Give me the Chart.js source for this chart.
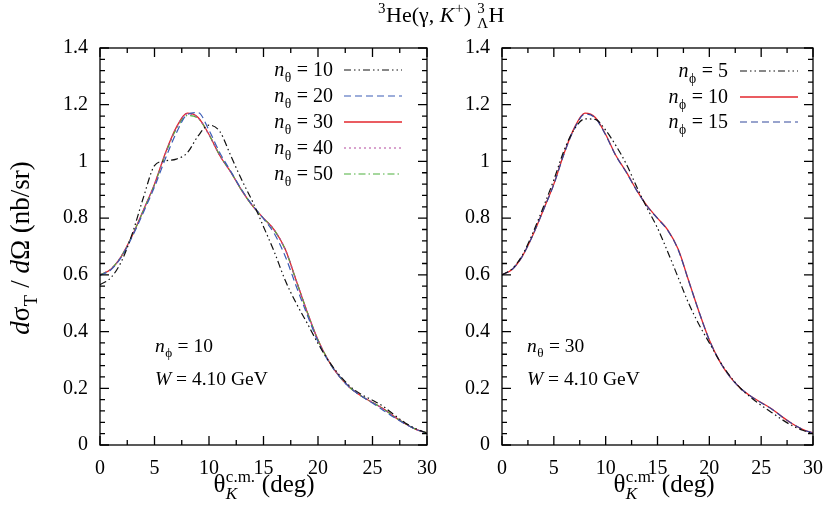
<!DOCTYPE html>
<html><head><meta charset="utf-8">
<script src="https://cdn.jsdelivr.net/npm/chart.js@4.4.1/dist/chart.umd.min.js"></script>
<style>
html,body{margin:0;padding:0;background:#fff;overflow:hidden}
#wrap{position:relative;width:835px;height:513px;background:#fff}
canvas{position:absolute;left:0;top:0}
</style></head><body>
<div id="wrap"><canvas id="c1" width="835" height="513"></canvas><canvas id="c2" width="835" height="513"></canvas></div>
<script>
// ---------- data ----------
const theta = [0,1,2,3,4,5,6,7,8,9,10,11,12,13,14,15,16,17,18,19,20,21,22,23,24,25,26,27,28,29,30];
const xTickLabels = [0,5,10,15,20,25,30];
const yTickLabels = ['0','0.2','0.4','0.6','0.8','1','1.2','1.4'];

// left panel (n_phi = 10)
const nTheta10 = [0.565,0.590,0.650,0.750,0.875,0.985,1.002,1.008,1.030,1.090,1.128,1.105,1.020,0.935,0.858,0.770,0.680,0.580,0.500,0.430,0.358,0.295,0.245,0.205,0.178,0.158,0.136,0.106,0.078,0.057,0.042];
const nTheta20 = [0.598,0.618,0.665,0.738,0.822,0.910,1.010,1.100,1.165,1.172,1.110,1.030,0.965,0.900,0.845,0.798,0.745,0.665,0.560,0.460,0.365,0.293,0.240,0.200,0.172,0.148,0.122,0.097,0.074,0.055,0.042];
const nTheta30 = [0.600,0.620,0.668,0.742,0.830,0.920,1.030,1.120,1.170,1.155,1.095,1.020,0.962,0.898,0.843,0.800,0.758,0.690,0.580,0.470,0.370,0.295,0.240,0.200,0.172,0.150,0.128,0.100,0.075,0.055,0.042];
const nTheta40 = [0.600,0.620,0.668,0.742,0.829,0.919,1.028,1.118,1.168,1.154,1.094,1.020,0.962,0.898,0.843,0.800,0.757,0.689,0.580,0.470,0.370,0.295,0.240,0.200,0.172,0.150,0.127,0.100,0.075,0.055,0.042];
const nTheta50 = [0.600,0.620,0.668,0.742,0.829,0.918,1.026,1.114,1.162,1.152,1.094,1.021,0.963,0.898,0.843,0.800,0.757,0.689,0.580,0.470,0.370,0.295,0.240,0.200,0.172,0.150,0.127,0.100,0.075,0.055,0.042];

// right panel (n_theta = 30)
const nPhi5  = [0.600,0.622,0.672,0.750,0.840,0.935,1.040,1.115,1.150,1.148,1.110,1.055,0.990,0.910,0.835,0.765,0.680,0.590,0.500,0.425,0.360,0.296,0.243,0.200,0.168,0.140,0.115,0.090,0.068,0.052,0.040];
const nPhi10 = [0.600,0.620,0.668,0.742,0.830,0.920,1.030,1.120,1.170,1.155,1.095,1.020,0.962,0.898,0.843,0.800,0.758,0.690,0.580,0.470,0.370,0.295,0.240,0.200,0.172,0.150,0.128,0.100,0.075,0.055,0.042];
const nPhi15 = [0.600,0.620,0.668,0.742,0.829,0.919,1.028,1.117,1.167,1.153,1.093,1.019,0.961,0.897,0.842,0.799,0.756,0.688,0.579,0.470,0.370,0.295,0.240,0.200,0.172,0.149,0.127,0.100,0.075,0.055,0.042];

// ---------- helpers ----------
const FONT = "'Liberation Serif', 'Times New Roman', serif";
function pts(arr){ return theta.map((t,i)=>({x:t,y:arr[i]})); }
function fnt(size,it){ return (it?'italic ':'')+size+'px '+FONT; }
function segW(ctx,s,size){
  if (s.sup!==undefined || s.sub!==undefined){
    const ss=size*0.68; let w=0;
    if (s.sup!==undefined){ ctx.font=fnt(ss,s.supIt); w=Math.max(w,ctx.measureText(s.sup).width); }
    if (s.sub!==undefined){ ctx.font=fnt(ss,s.subIt); w=Math.max(w,ctx.measureText(s.sub).width); }
    return w+1;
  }
  ctx.font=fnt(size,s.it); return ctx.measureText(s.t).width;
}
function drawRich(ctx,segs,x,y,size,align){
  let total=0; segs.forEach(s=>total+=segW(ctx,s,size));
  let cx = align==='right'? x-total : align==='center'? x-total/2 : x;
  ctx.textAlign='left'; ctx.textBaseline='alphabetic'; ctx.fillStyle='#000';
  segs.forEach(s=>{
    const w=segW(ctx,s,size);
    if (s.sup!==undefined || s.sub!==undefined){
      const ss=size*0.68;
      if (s.sup!==undefined){ ctx.font=fnt(ss,s.supIt); ctx.fillText(s.sup,cx+0.5,y-size*0.42); }
      if (s.sub!==undefined){ ctx.font=fnt(ss,s.subIt); ctx.fillText(s.sub,cx+0.5,y+size*0.28); }
    } else { ctx.font=fnt(size,s.it); ctx.fillText(s.t,cx,y); }
    cx+=w;
  });
}

const framePlugin = {
  id:'frame',
  afterDatasetsDraw(chart){
    const {ctx, chartArea:a, scales:{x,y}} = chart;
    ctx.save(); ctx.strokeStyle='#000'; ctx.lineWidth=1.3; ctx.setLineDash([]);
    ctx.beginPath();
    for (let k=0;k<=12;k++){
      const px=x.getPixelForValue(k*2.5); const L=(k%2===0)?9:5;
      ctx.moveTo(px,a.bottom); ctx.lineTo(px,a.bottom-L);
      ctx.moveTo(px,a.top); ctx.lineTo(px,a.top+L);
    }
    for (let k=0;k<=35;k++){
      const py=y.getPixelForValue(k*0.04); const L=(k%5===0)?9:5;
      ctx.moveTo(a.left,py); ctx.lineTo(a.left+L,py);
      ctx.moveTo(a.right,py); ctx.lineTo(a.right-L,py);
    }
    ctx.stroke();
    ctx.strokeRect(a.left,a.top,a.right-a.left,a.bottom-a.top);
    ctx.restore();
  }
};
function textPlugin(items){
  return { id:'txt', afterDraw(chart){
    const ctx=chart.ctx; ctx.save();
    items.forEach(it=>{
      if (it.rot){ ctx.save(); ctx.translate(it.x,it.y); ctx.rotate(-Math.PI/2); drawRich(ctx,it.segs,0,0,it.size,it.align); ctx.restore(); }
      else drawRich(ctx,it.segs,it.x,it.y,it.size,it.align);
    });
    ctx.restore();
  }};
}
function legendPlugin(entries,textRight,x1,x2){
  return { id:'leg', afterDraw(chart){
    const ctx=chart.ctx; ctx.save();
    entries.forEach(e=>{
      const ds=chart.data.datasets[e.ds];
      drawRich(ctx,e.segs,textRight,e.y+6,20,'right');
      ctx.strokeStyle=ds.borderColor; ctx.lineWidth=ds.borderWidth; ctx.setLineDash(ds.borderDash||[]);
      ctx.beginPath(); ctx.moveTo(x1,e.y); ctx.lineTo(x2,e.y); ctx.stroke();
    });
    ctx.restore();
  }};
}
function ds(arr,color,dash,w){
  return {data:pts(arr),borderColor:color,borderDash:dash,borderWidth:w||1.2,pointRadius:0,fill:false,cubicInterpolationMode:'monotone'};
}
function makeOptions(yWidth,rightPad){
  return {
    responsive:false, animation:false, devicePixelRatio:1,
    layout:{padding:{left:0,right:rightPad,top:48,bottom:0}},
    plugins:{legend:{display:false},tooltip:{enabled:false}},
    scales:{
      x:{type:'linear',min:0,max:30,
         afterFit(s){ s.height=68; },
         afterBuildTicks(s){ s.ticks=xTickLabels.map(v=>({value:v})); },
         grid:{display:false,drawTicks:false}, border:{display:false},
         ticks:{font:{family:FONT,size:20},color:'#000',padding:12,maxRotation:0,callback:v=>String(v)}},
      y:{type:'linear',min:0,max:1.4,
         afterFit(s){ s.width=yWidth; },
         afterBuildTicks(s){ s.ticks=yTickLabels.map(v=>({value:parseFloat(v)})); },
         grid:{display:false,drawTicks:false}, border:{display:false},
         ticks:{font:{family:FONT,size:20},color:'#000',padding:12,callback:(v,i)=>yTickLabels[i]}}
    }
  };
}
const BLACK='#111', BLUE='#3a5cb6', RED='#e3262c', MAG='#b2489c', GREEN='#4caf3c', NAVY='#33489c';
const DDOT=[7,3,1.5,3,1.5,3], DASH=[7,4], DOT=[2,3], DDASH=[7,3,1.5,3];

const xLabel = [{t:'θ'},{sup:'c.m.',sub:'K',subIt:true},{t:' (deg)'}];

new Chart(document.getElementById('c1'),{
  type:'line',
  data:{datasets:[
    ds(nTheta10,BLACK,DDOT),
    ds(nTheta20,BLUE,DASH),
    ds(nTheta40,MAG,DOT),
    ds(nTheta50,GREEN,DDASH),
    ds(nTheta30,RED,[],1.3)
  ]},
  options:makeOptions(100,835-427),
  plugins:[framePlugin,
    textPlugin([
      {segs:[{t:'d',it:true},{t:'σ'},{sub:'T'},{t:' / '},{t:'d',it:true},{t:'Ω (nb/sr)'}],x:29,y:248,size:27,align:'center',rot:true},
      {segs:xLabel,x:264,y:492,size:25,align:'center'},
      {segs:[{t:'n',it:true},{sub:'ϕ'},{t:' = 10'}],x:155,y:352,size:19.5,align:'left'},
      {segs:[{t:'W',it:true},{t:' = 4.10 GeV'}],x:155,y:385,size:19.5,align:'left'}
    ]),
    legendPlugin([
      {ds:0,y:70,segs:[{t:'n',it:true},{sub:'θ'},{t:' = 10'}]},
      {ds:1,y:96,segs:[{t:'n',it:true},{sub:'θ'},{t:' = 20'}]},
      {ds:4,y:122,segs:[{t:'n',it:true},{sub:'θ'},{t:' = 30'}]},
      {ds:2,y:148,segs:[{t:'n',it:true},{sub:'θ'},{t:' = 40'}]},
      {ds:3,y:174,segs:[{t:'n',it:true},{sub:'θ'},{t:' = 50'}]}
    ],333,344,402)
  ]
});

new Chart(document.getElementById('c2'),{
  type:'line',
  data:{datasets:[
    ds(nPhi5,BLACK,DDOT),
    ds(nPhi15,NAVY,DASH),
    ds(nPhi10,RED,[],1.3)
  ]},
  options:makeOptions(502,835-822),
  plugins:[framePlugin,
    textPlugin([
      {segs:[{sup:'3'},{t:'He(γ, '},{t:'K',it:true},{sup:'+'},{t:') '},{sup:'3',sub:'Λ'},{t:'H'}],x:441,y:22,size:22,align:'center'},
      {segs:xLabel,x:664,y:492,size:25,align:'center'},
      {segs:[{t:'n',it:true},{sub:'θ'},{t:' = 30'}],x:527,y:352,size:19.5,align:'left'},
      {segs:[{t:'W',it:true},{t:' = 4.10 GeV'}],x:527,y:385,size:19.5,align:'left'}
    ]),
    legendPlugin([
      {ds:0,y:71,segs:[{t:'n',it:true},{sub:'ϕ'},{t:' = 5'}]},
      {ds:2,y:97,segs:[{t:'n',it:true},{sub:'ϕ'},{t:' = 10'}]},
      {ds:1,y:122,segs:[{t:'n',it:true},{sub:'ϕ'},{t:' = 15'}]}
    ],728,740,798)
  ]
});
</script>
</body></html>
